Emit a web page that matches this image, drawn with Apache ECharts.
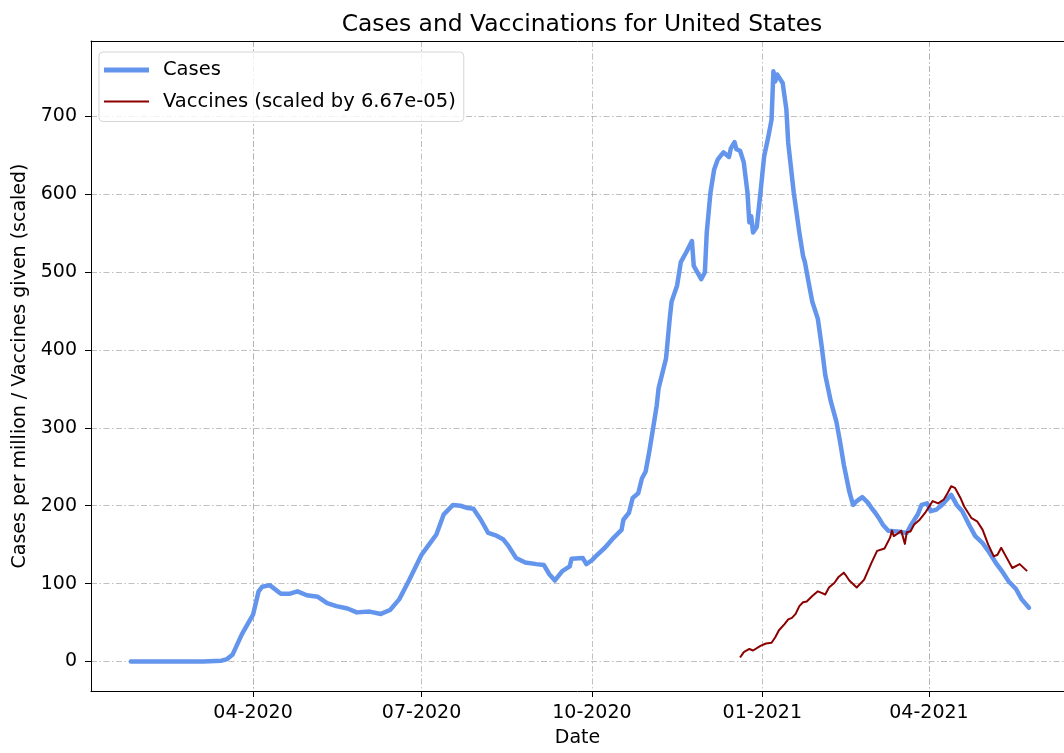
<!DOCTYPE html>
<html>
<head>
<meta charset="utf-8">
<title>Cases and Vaccinations for United States</title>
<script src="https://cdn.jsdelivr.net/npm/echarts@6/dist/echarts.min.js"></script>
<style>
html,body{margin:0;padding:0;background:#fff;}
#chart{width:1064px;height:753px;}
</style>
</head>
<body>
<div id="chart"></div>
<script>
// cases per million (7 day avg)
var caseDates = ['2020-01-26','2020-02-15','2020-03-05','2020-03-15','2020-03-18','2020-03-21','2020-03-26','2020-04-01','2020-04-04','2020-04-06',
	'2020-04-10','2020-04-16','2020-04-21','2020-04-25','2020-04-30','2020-05-06','2020-05-11','2020-05-16','2020-05-22','2020-05-27',
	'2020-06-03','2020-06-09','2020-06-14','2020-06-19','2020-06-24','2020-07-01','2020-07-05','2020-07-09','2020-07-13','2020-07-18',
	'2020-07-22','2020-07-26','2020-07-29','2020-08-02','2020-08-06','2020-08-10','2020-08-14','2020-08-17','2020-08-21','2020-08-26',
	'2020-09-01','2020-09-05','2020-09-08','2020-09-11','2020-09-15','2020-09-19','2020-09-20','2020-09-26','2020-09-28','2020-10-01',
	'2020-10-03','2020-10-08','2020-10-12','2020-10-17','2020-10-18','2020-10-21','2020-10-23','2020-10-26','2020-10-28','2020-10-30',
	'2020-11-01','2020-11-03','2020-11-05','2020-11-06','2020-11-08','2020-11-10','2020-11-12','2020-11-13','2020-11-16','2020-11-18',
	'2020-11-21','2020-11-24','2020-11-25','2020-11-29','2020-12-01','2020-12-02','2020-12-04','2020-12-06','2020-12-08','2020-12-11',
	'2020-12-14','2020-12-15','2020-12-17','2020-12-18','2020-12-20','2020-12-22','2020-12-24','2020-12-25','2020-12-26','2020-12-27',
	'2020-12-29','2020-12-31','2021-01-02','2021-01-04','2021-01-06','2021-01-07','2021-01-08','2021-01-09','2021-01-10','2021-01-12',
	'2021-01-14','2021-01-15','2021-01-18','2021-01-21','2021-01-23','2021-01-24','2021-01-26','2021-01-28','2021-01-31','2021-02-02',
	'2021-02-04','2021-02-07','2021-02-10','2021-02-12','2021-02-14','2021-02-17','2021-02-19','2021-02-21','2021-02-24','2021-02-27',
	'2021-03-01','2021-03-03','2021-03-05','2021-03-07','2021-03-10','2021-03-15','2021-03-20','2021-03-22','2021-03-26','2021-03-28',
	'2021-03-31','2021-04-02','2021-04-05','2021-04-08','2021-04-13','2021-04-16','2021-04-19','2021-04-23','2021-04-26','2021-04-30',
	'2021-05-03','2021-05-07','2021-05-11','2021-05-14','2021-05-18','2021-05-21','2021-05-25'];
var caseValues = [0,0,0,1,3,9,35,60,90,96,
	98,87,87,90,85,83,75,71,68,63,
	64,61,66,80,103,137,150,163,189,201,
	200,197,196,182,165,162,157,148,133,127,
	125,124,112,104,116,122,132,133,125,130,
	135,146,157,169,182,191,210,216,235,244,
	270,299,329,351,370,389,440,462,483,513,
	526,540,508,491,500,551,602,632,645,654,
	648,659,667,658,656,641,602,564,572,551,
	558,602,649,671,696,758,745,754,756,743,
	709,666,602,551,521,513,487,462,440,406,
	368,334,308,282,253,218,201,206,211,204,
	197,191,184,176,168,167,165,174,189,201,
	203,193,195,201,214,201,193,174,161,152,
	142,127,114,103,93,80,69];

// vaccines given, already scaled by 6.67e-05
var vaccDates = ['2020-12-20','2020-12-22','2020-12-25','2020-12-27','2020-12-31','2021-01-03','2021-01-06','2021-01-08','2021-01-10','2021-01-13',
	'2021-01-15','2021-01-17','2021-01-19','2021-01-21','2021-01-23','2021-01-25','2021-01-28','2021-01-31','2021-02-02','2021-02-04',
	'2021-02-06','2021-02-09','2021-02-11','2021-02-14','2021-02-15','2021-02-17','2021-02-21','2021-02-25','2021-03-01','2021-03-04',
	'2021-03-08','2021-03-11','2021-03-12','2021-03-13','2021-03-15','2021-03-17','2021-03-19','2021-03-20','2021-03-22','2021-03-24',
	'2021-03-27','2021-03-30','2021-04-03','2021-04-06','2021-04-09','2021-04-11','2021-04-13','2021-04-15','2021-04-18','2021-04-20',
	'2021-04-24','2021-04-27','2021-04-30','2021-05-03','2021-05-06','2021-05-08','2021-05-10','2021-05-13','2021-05-16','2021-05-20',
	'2021-05-24'];
var vaccValues = [5,12,16,14,20,23,24,31,40,48,
	54,56,61,71,76,77,84,90,88,86,
	95,101,108,114,111,104,95,105,127,142,
	145,159,168,161,164,168,151,166,167,176,
	182,191,206,203,208,216,225,223,210,199,
	184,180,169,150,135,137,146,133,120,125,
	116];

var xTicks = ['2020-04-01','2020-07-01','2020-10-01','2021-01-01','2021-04-01'];
var yTicks = [0,100,200,300,400,500,600,700];

function pairUp(dates,values){
	var out = [];
	for(var i = 0; i < dates.length; i++){
		out.push([dates[i],values[i]]);
	}
	return out;
}

function renderChart(){
	var myChart = echarts.init(document.getElementById('chart'));
	var font = 'DejaVu Sans';
	var xMin = '2020-01-04 12:00:00';
	var xMax = '2021-06-12 22:00:00';
	var gridLine = {
		show:true,
		lineStyle:{
			color:'#b0b0b0',
			width:0.8,
			type:[6,2.5,1.5,2.5]
		}
	};
	myChart.setOption({
		animation:false,
		title:{
			text:'Cases and Vaccinations for United States',
			left:577,
			top:8,
			textAlign:'center',
			textStyle:{
				fontFamily:font,
				fontSize:23.4,
				fontWeight:'normal',
				color:'#000'
			}
		},
		legend:{
			orient:'vertical',
			left:99,
			top:52,
			padding:[8,8,10,5],
			itemWidth:45,
			itemHeight:19,
			itemGap:11.5,
			backgroundColor:'rgba(255,255,255,0.8)',
			borderColor:'#d5d5d5',
			borderWidth:1,
			borderRadius:4,
			textStyle:{
				fontFamily:font,
				fontSize:19.5,
				color:'#000',
				padding:[0,0,0,9]
			},
			data:[
				{name:'Cases',icon:'path://M0 0H45V5H0Z'},
				{name:'Vaccines (scaled by 6.67e-05)',icon:'path://M0 0H45V2H0Z'}
			]
		},
		grid:{
			show:false,
			left:91,
			right:0,
			top:41,
			bottom:59
		},
		xAxis:[
			{
				type:'time',
				min:xMin,
				max:xMax,
				name:'Date',
				nameLocation:'middle',
				nameGap:38,
				nameTextStyle:{fontFamily:font,fontSize:19,color:'#000'},
				axisLine:{show:true,onZero:false,lineStyle:{color:'#000',width:1}},
				axisTick:{show:true,inside:false,length:6,lineStyle:{color:'#000'},customValues:xTicks},
				axisLabel:{
					customValues:xTicks,
					formatter:'{MM}-{yyyy}',
					margin:13,
					fontFamily:font,
					fontSize:19,
					color:'#000'
				},
				splitLine:gridLine
			},
			{
				// top spine only
				type:'time',
				position:'top',
				min:xMin,
				max:xMax,
				axisLine:{show:true,onZero:false,lineStyle:{color:'#000',width:1}},
				axisTick:{show:false},
				axisLabel:{show:false},
				splitLine:{show:false}
			}
		],
		yAxis:{
			type:'value',
			min:-38,
			max:797,
			name:'Cases per million / Vaccines given (scaled)',
			nameLocation:'middle',
			nameGap:60,
			nameTextStyle:{fontFamily:font,fontSize:19,color:'#000'},
			axisLine:{show:true,lineStyle:{color:'#000',width:1}},
			axisTick:{show:true,inside:false,length:6,lineStyle:{color:'#000'},customValues:yTicks},
			axisLabel:{
				customValues:yTicks,
				margin:14,
				fontFamily:font,
				fontSize:19,
				color:'#000'
			},
			splitLine:gridLine
		},
		series:[
			{
				name:'Cases',
				type:'line',
				symbol:'none',
				color:'#6495ED',
				lineStyle:{color:'#6495ED',width:4.5,join:'round',cap:'round'},
				data:pairUp(caseDates,caseValues)
			},
			{
				name:'Vaccines (scaled by 6.67e-05)',
				type:'line',
				symbol:'none',
				color:'#8B0000',
				lineStyle:{color:'#8B0000',width:2,join:'round'},
				data:pairUp(vaccDates,vaccValues)
			}
		]
	});
}

renderChart();
</script>
</body>
</html>
